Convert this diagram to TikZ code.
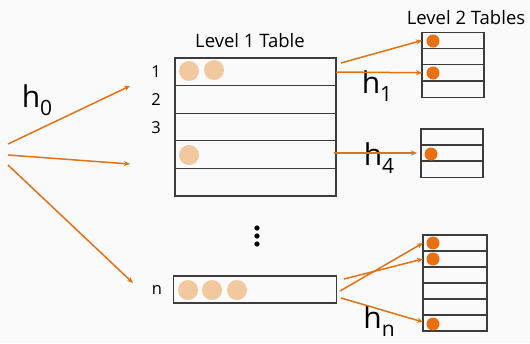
\documentclass[tikz,border=0pt]{standalone}
\usepackage{fontspec}
\setmainfont{Open Sans}
\usetikzlibrary{arrows.meta}
\definecolor{bgc}{RGB}{250,250,250}
\definecolor{arr}{RGB}{226,114,22}
\definecolor{lite}{RGB}{242,200,158}
\definecolor{dark}{RGB}{232,112,16}
\definecolor{edge}{RGB}{60,60,60}
\tikzset{
  cell/.style={draw=edge, line width=1.2pt, minimum width=#1, inner sep=0pt, outer sep=0pt},
  rowA/.style={cell=161pt, minimum height=27.6pt},
  rowN/.style={cell=163pt, minimum height=27pt},
  sm/.style={cell=62pt, minimum height=16.2pt},
  smc/.style={cell=64pt, minimum height=16pt},
  lball/.style={circle, fill=lite, minimum size=20pt, inner sep=0pt},
  dball/.style={circle, fill=dark, minimum size=13pt, inner sep=0pt},
  harrow/.style={draw=arr, line width=1.5pt, -{Stealth[length=6pt,width=5pt]}},
  title/.style={font=\fontsize{18.5}{18.5}\selectfont, inner sep=0pt},
  rlab/.style={font=\fontsize{16.5}{16.5}\selectfont, inner sep=0pt},
  hlab/.style={font=\fontsize{30}{30}\selectfont, inner sep=0pt}
}
\newcommand{\hsub}[1]{h\raisebox{-0.28em}{\fontsize{21}{21}\selectfont #1}}
\begin{document}
\begin{tikzpicture}[x=1pt,y=-1pt]
\fill[bgc] (0,0) rectangle (530,343);
\useasboundingbox (0,0) rectangle (530,343);
% titles
\node[title] (t1) at (250,41) {Level 1 Table};
\node[title] (t2) at (466,18) {Level 2 Tables};
% Level 1 table
\foreach \i/\y in {1/71.8,2/99.4,3/127,4/154.6,5/182.2}
  \node[rowA] (r\i) at (255.5,\y) {};
\node[rowN] (rn) at (255,289.5) {};
\node[rlab] (l1) at (156,72) {1};
\node[rlab] (l2) at (156,99.5) {2};
\node[rlab] (l3) at (156,127.5) {3};
\node[rlab] (ln) at (157,290) {n};
% balls level 1
\node[lball] (b11) at (189,71) {};
\node[lball] (b12) at (214,70) {};
\node[lball] (b41) at (189,155) {};
\node[lball] (bn1) at (188,290) {};
\node[lball] (bn2) at (212,290) {};
\node[lball] (bn3) at (237,290) {};
% vdots
\foreach \y in {228,236,244} \fill (257,\y) circle (2.6pt);
% level 2 tables
\foreach \i/\y in {1/40.4,2/56.6,3/72.8,4/89}
  \node[sm] (a\i) at (453,\y) {};
\foreach \i/\y in {1/137,2/153,3/169}
  \node[sm] (b\i) at (452,\y) {};
\foreach \i/\y in {1/243,2/259,3/275,4/291,5/307,6/323}
  \node[smc] (c\i) at (455,\y) {};
\node[dball] (da1) at (433,41) {};
\node[dball] (da3) at (433,73) {};
\node[dball] (db2) at (431,154) {};
\node[dball] (dc1) at (433,243) {};
\node[dball] (dc2) at (433,259) {};
\node[dball] (dc6) at (433,324) {};
% hash labels
\node[hlab] (h0) at (37,100) {\hsub{0}};
\node[hlab] (h1) at (377,86) {\hsub{1}};
\node[hlab] (h4) at (379,158) {\hsub{4}};
\node[hlab] (hn) at (379,321) {\hsub{n}};
% arrows from h0
\coordinate (s1) at (8,144);
\coordinate (s2) at (8,155);
\coordinate (s3) at (8,165);
\coordinate (e1) at (130,86);
\coordinate (e2) at (130,164);
\coordinate (e3) at (133,283);
\draw[harrow] (s1) -- (e1);
\draw[harrow] (s2) -- (e2);
\draw[harrow] (s3) -- (e3);
% level 2 arrows
\coordinate (p1) at (341,63);
\coordinate (p2) at (336,72);
\coordinate (p4) at (334,153);
\coordinate (q1) at (344,279);
\coordinate (q2) at (340,291);
\coordinate (q3) at (341,298);
\draw[harrow] (p1) -- (a1.west);
\draw[harrow] (p2) -- (a3.west);
\draw[harrow] (p4) -- ([xshift=-4pt]b2.west);
\draw[harrow] (q1) -- (c2.west);
\draw[harrow] (q2) -- (c1.west);
\draw[harrow] (q3) -- ([yshift=1pt]c6.west);
\end{tikzpicture}
\end{document}
